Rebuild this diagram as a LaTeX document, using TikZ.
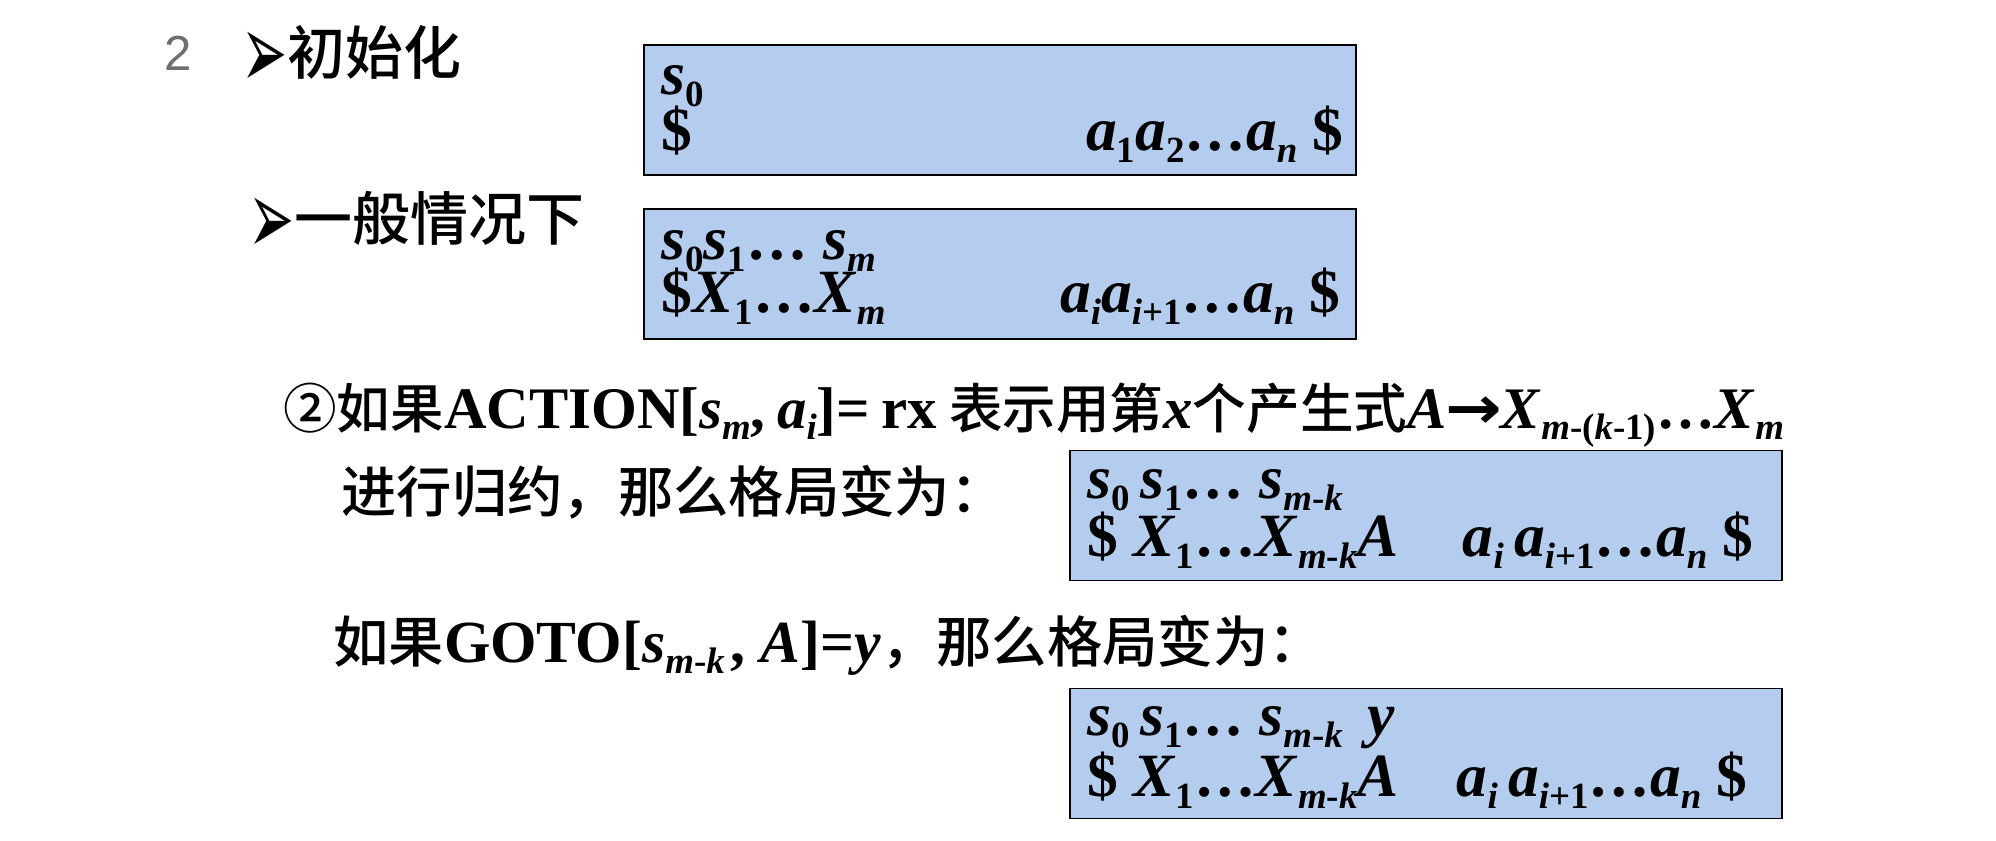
\documentclass[tikz,border=0pt]{standalone}
\usepackage{fontspec}
\setmainfont{Liberation Serif}
\newfontfamily\cjk{Noto Sans CJK SC Medium}
\newfontfamily\symf{DejaVu Sans}
\newfontfamily\numf{Liberation Sans}
\newcommand\zhsize{31.5}
\newcommand\lo[1]{\raisebox{-0.2em}{\fontsize{21}{21}\selectfont#1}}
\newcommand\zh[1]{{\cjk\mdseries\fontsize{\zhsize}{36}\selectfont#1}}
\newcommand\pt[1]{{\symf\fontsize{28}{30}\selectfont\raisebox{-0.3em}{\scalebox{1.12}[2.15]{#1}}}}
\newcommand\arr{{\symf\bfseries\kern-0.02em\scalebox{1.15}[1]{→}\kern-0.02em}}
\begin{document}
\begin{tikzpicture}[x=0.02cm,y=-0.02cm,
    cfgbox/.style={shape=rectangle,draw,line width=1pt,fill=cfg_bgbox,minimum width=14.24cm,minimum height=2.6cm},
    cfgleft/.style={inner sep=0pt,anchor=base west,font=\bfseries\fontsize{35}{40}\selectfont},
    cfgright/.style={inner sep=0pt,anchor=base east,font=\bfseries\fontsize{35}{40}\selectfont},
    cfgline/.style={inner sep=0pt,anchor=base west,font=\bfseries\fontsize{34}{40}\selectfont},
    cfghead/.style={inner sep=0pt,anchor=base west,font=\cjk\fontsize{33}{36}\selectfont}]
    \definecolor{cfg_bgbox}{RGB}{180,204,237}
    \definecolor{cfg_num}{RGB}{110,110,110}
    \useasboundingbox (0,0) rectangle (1996,840);
    \node[inner sep=0pt,anchor=base west,text=cfg_num,font=\numf\fontsize{28}{30}\selectfont] (num) at (164,70) {2};
    \node[cfghead] (init) at (241,74) {\pt{➢}初始化};
    \node[cfghead] (gen) at (248,240) {\pt{➢}一般情况下};
    \node[cfgbox] (b1) at (1000,110) {};
    \node[cfgbox] (b2) at (1000,274) {};
    \node[cfgbox] (b3) at (1426,515.5) {};
    \node[cfgbox] (b4) at (1426,753.5) {};
    \node[cfgleft] (b1s) at ([shift={(18,50)}]b1.north west) {\textit{s}\lo{0}};
    \node[cfgleft] (b1x) at ([shift={(18,106)}]b1.north west) {\$};
    \node[cfgright] (b1a) at ([shift={(-13,106)}]b1.north east) {\textit{a}\lo{1}\textit{a}\lo{2}…\textit{a}\lo{\textit{n}} \$};
    \node[cfgleft] (b2s) at ([shift={(18,51)}]b2.north west) {\textit{s}\lo{0}\textit{s}\lo{1}… \textit{s}\lo{\textit{m}}};
    \node[cfgleft] (b2x) at ([shift={(18,104)}]b2.north west) {\$\textit{X}\lo{1}…\textit{X}\lo{\textit{m}}};
    \node[cfgright] (b2a) at ([shift={(-16,104)}]b2.north east) {\textit{a}\lo{\textit{i}}\textit{a}\lo{\textit{i}+1}…\textit{a}\lo{\textit{n}} \$};
    \node[cfgline,font=\bfseries\fontsize{33.5}{40}\selectfont] (act) at (283,428) {\renewcommand\zhsize{30.5}\zh{②如果}ACTION[\textit{s}\lo{\textit{m}},\hspace{0.2em}\textit{a}\lo{\textit{i}}]=\hspace{0.2em}rx\hspace{0.2em}\zh{表示用第}\textit{x}\zh{个产生式}\textit{A}\arr\textit{X}\lo{\textit{m}-(\textit{k}-1)}…\textit{X}\lo{\textit{m}}};
    \node[cfgline] (red) at (341,512) {\zh{进行归约，那么格局变为：}};
    \node[cfgleft] (b3s) at ([shift={(18,49)}]b3.north west) {\textit{s}\lo{0}\,\textit{s}\lo{1}… \textit{s}\lo{\textit{m}-\textit{k}}};
    \node[cfgleft] (b3x) at ([shift={(18,107)}]b3.north west) {\$ \textit{X}\lo{1}…\textit{X}\lo{\textit{m}-\textit{k}}\textit{A}};
    \node[cfgright] (b3a) at ([shift={(-29,107)}]b3.north east) {\textit{a}\lo{\textit{i}}\,\textit{a}\lo{\textit{i}+1}…\textit{a}\lo{\textit{n}} \$};
    \node[cfgline] (go) at (333,662) {\zh{如果}GOTO[\textit{s}\lo{\textit{m}-\textit{k}}\kern0.1em, \textit{A}]=\textit{y}\zh{，那么格局变为：}};
    \node[cfgleft] (b4s) at ([shift={(18,48)}]b4.north west) {\textit{s}\lo{0}\,\textit{s}\lo{1}… \textit{s}\lo{\textit{m}-\textit{k}}\hspace{0.4em}\textit{y}};
    \node[cfgleft] (b4x) at ([shift={(18,109)}]b4.north west) {\$ \textit{X}\lo{1}…\textit{X}\lo{\textit{m}-\textit{k}}\textit{A}};
    \node[cfgright] (b4a) at ([shift={(-35,109)}]b4.north east) {\textit{a}\lo{\textit{i}}\,\textit{a}\lo{\textit{i}+1}…\textit{a}\lo{\textit{n}} \$};
\end{tikzpicture}
\end{document}
